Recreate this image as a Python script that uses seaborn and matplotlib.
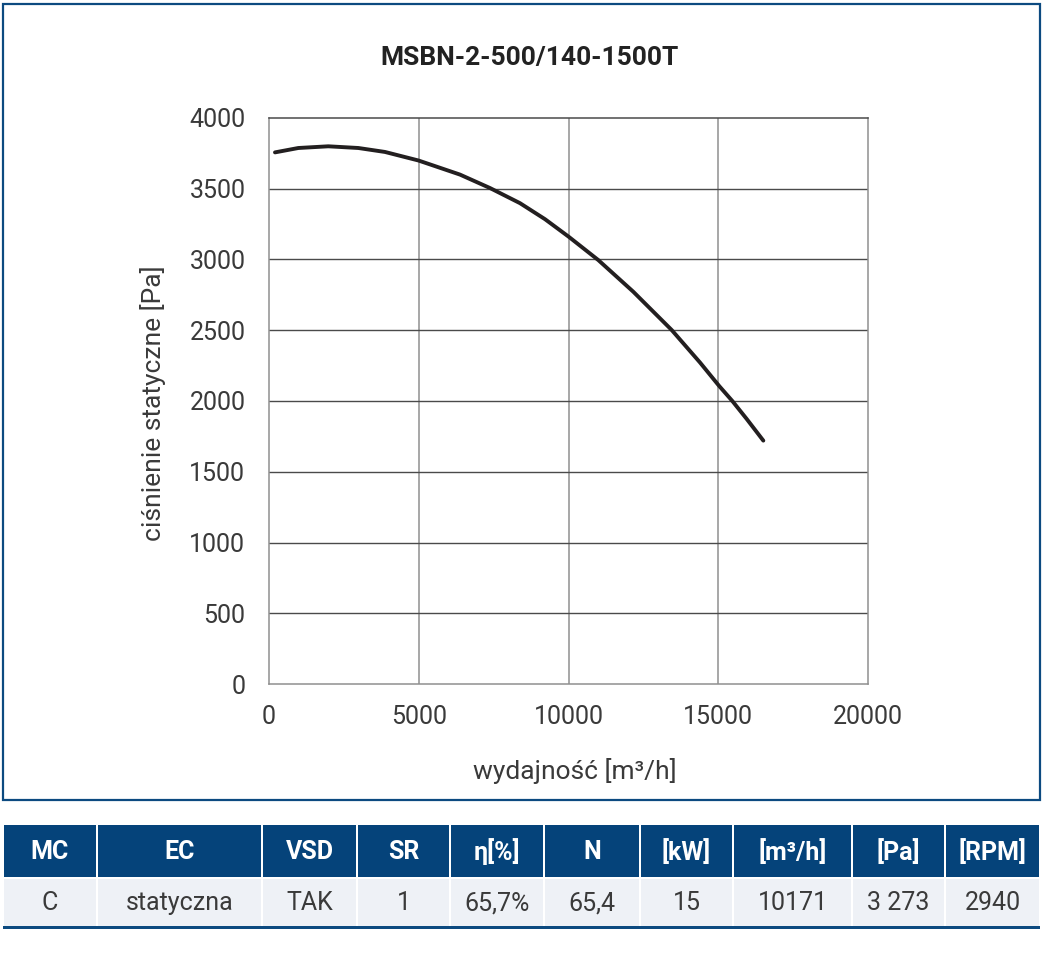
import numpy as np
import pandas as pd
import matplotlib
matplotlib.use("Agg")
import matplotlib.pyplot as plt
from matplotlib.patches import Rectangle
import seaborn as sns

# ---- data ----
title = "MSBN-2-500/140-1500T"
flow = [200, 980, 1980, 2983, 3873, 4985, 5376, 6377, 7379, 8381, 9215, 10006,
        10995, 12164, 13444, 14391, 15035, 15470, 15950, 16505]
pressure = [3757, 3788, 3800, 3788, 3760, 3700, 3672, 3600, 3505, 3398, 3285, 3161,
            2996, 2772, 2502, 2272, 2105, 2000, 1873, 1720]
x_ticks = [0, 5000, 10000, 15000, 20000]
y_ticks = [0, 500, 1000, 1500, 2000, 2500, 3000, 3500, 4000]
x_label = "wydajność [m³/h]"
y_label = "ciśnienie statyczne [Pa]"
table_headers = ["MC", "EC", "VSD", "SR", "η[%]", "N", "[kW]", "[m³/h]", "[Pa]", "[RPM]"]
table_values = ["C", "statyczna", "TAK", "1", "65,7%", "65,4", "15", "10171", "3 273", "2940"]

sns.set_theme(style="white")
FONT = ["Roboto", "DejaVu Sans"]
plt.rcParams["font.family"] = FONT
plt.rcParams["font.weight"] = "normal"

W, H = 1043, 957
fig = plt.figure(figsize=(W / 100, H / 100), dpi=100)

def fx(px):
    return px / W

def fy(py):
    return 1 - py / H

NAVY = "#0c4a80"
TXT = "#3a3a3a"

# outer frame
fig.patches.append(Rectangle((fx(3), fy(800)), fx(1040) - fx(3), fy(4) - fy(800),
                             transform=fig.transFigure, fill=False, edgecolor=NAVY, linewidth=1.6))

ax = fig.add_axes([fx(269), fy(684), fx(868) - fx(269), fy(118) - fy(684)])
df = pd.DataFrame({"flow": flow, "pressure": pressure})
sns.lineplot(data=df, x="flow", y="pressure", ax=ax, color="#231f20", linewidth=2.8, sort=False)
ax.lines[-1].set_solid_joinstyle("round")
ax.set_xlim(0, 20000)
ax.set_ylim(0, 4000)
ax.set_xticks(x_ticks)
ax.set_yticks(y_ticks)
ax.set_xticklabels([str(t) for t in x_ticks])
ax.set_yticklabels([str(t) for t in y_ticks])
ax.tick_params(axis="both", length=0, labelsize=18, colors=TXT)
ax.tick_params(axis="y", pad=17)
ax.tick_params(axis="x", pad=15)
for v in x_ticks[1:-1]:
    ax.axvline(v, color="#8f8f8f", linewidth=1.1, zorder=0)
for v in y_ticks[1:-1]:
    ax.axhline(v, color="#4a4a4a", linewidth=1.0, zorder=0)
for s in ax.spines.values():
    s.set_color("#8f8f8f")
    s.set_linewidth(1.1)
ax.spines["top"].set_color("#4a4a4a")
ax.set_xlabel("")
ax.set_ylabel("")
fig.text(fx(575), fy(771), x_label, ha="center", va="center", fontsize=19, color=TXT)
fig.text(fx(153), fy(403), y_label, ha="center", va="center", rotation=90, fontsize=19, color=TXT)
fig.text(fx(530), fy(58), title, ha="center", va="center", fontsize=19, fontweight="bold", color="#222222")

# table
edges = [3, 97, 262, 357, 450, 544, 640, 733, 852, 945, 1040]
HEAD = "#05437a"
BODY = "#eef1f6"
for i in range(len(table_headers)):
    x0, x1 = edges[i] + 1, edges[i + 1] - 1
    fig.patches.append(Rectangle((fx(x0), fy(877)), fx(x1) - fx(x0), fy(825) - fy(877),
                                 transform=fig.transFigure, facecolor=HEAD, edgecolor="none"))
    fig.patches.append(Rectangle((fx(x0), fy(926)), fx(x1) - fx(x0), fy(879) - fy(926),
                                 transform=fig.transFigure, facecolor=BODY, edgecolor="none"))
    cx = (edges[i] + edges[i + 1]) / 2
    fig.text(fx(cx), fy(852), table_headers[i], ha="center", va="center", fontsize=18,
             fontweight="bold", color="white")
    fig.text(fx(cx), fy(903), table_values[i], ha="center", va="center", fontsize=18,
             color=TXT)
fig.patches.append(Rectangle((fx(3), fy(928.5)), fx(1040) - fx(3), fy(926) - fy(928.5),
                             transform=fig.transFigure, facecolor=NAVY, edgecolor="none"))

fig.savefig("out.png", dpi=100)
